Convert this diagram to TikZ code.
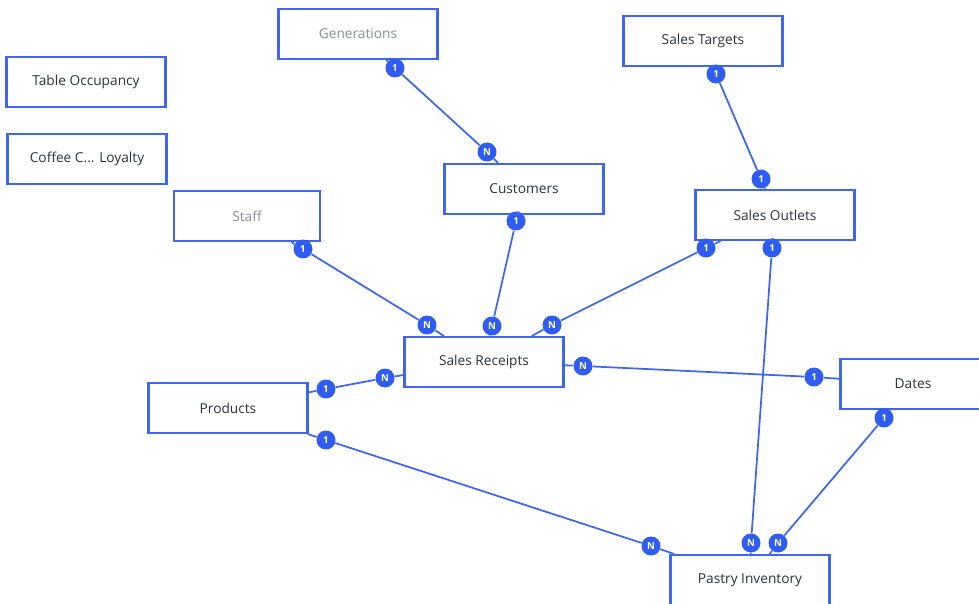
\documentclass[tikz,border=0pt]{standalone}
\usepackage{fontspec}
\setmainfont{Open Sans}
\definecolor{erblue}{HTML}{3D66F5}
\definecolor{badgeblue}{HTML}{2F5CF2}
\definecolor{txtgray}{HTML}{2E3338}
\definecolor{dimgray}{HTML}{8C9096}

\begin{document}
\begin{tikzpicture}[x=0.02cm, y=-0.02cm,
    table/.style={draw=erblue, line width=1.2pt, fill=white, minimum width=3.18cm,
      minimum height=1cm, text=txtgray, font=\fontsize{7.8}{9}\selectfont},
    faded/.style={table, text=dimgray},
    card/.style={circle, fill=badgeblue, text=white, inner sep=0pt, minimum size=0.38cm,
      font=\fontsize{5.5}{6}\selectfont\bfseries},
    rel/.style={erblue, line width=1pt}]
  \useasboundingbox (0,0) rectangle (979,604);
  % tables
  \node[table] (occ) at (86,82) {Table Occupancy};
  \node[table] (loy) at (87,159) {Coffee C... Loyalty};
  \node[faded] (gen) at (358,34) {Generations};
  \node[table] (tgt) at (703,41) {Sales Targets};
  \node[table] (cust) at (524,189) {Customers};
  \node[faded, minimum width=2.92cm] (staff) at (247,216) {Staff};
  \node[table] (outl) at (775,215) {Sales Outlets};
  \node[table] (rcpt) at (484,362) {Sales Receipts};
  \node[table] (prod) at (228,408) {Products};
  \node[table, minimum width=2.9cm] (dates) at (913,384) {Dates};
  \node[table] (pastry) at (750,580) {Pastry Inventory};
  % cardinality badges
  \node[card] (g1) at (395,68) {1};
  \node[card] (cN) at (487,152) {N};
  \node[card] (t1) at (716,74) {1};
  \node[card] (o1) at (761,179) {1};
  \node[card] (s1) at (303,249) {1};
  \node[card] (rN1) at (427,325) {N};
  \node[card] (c1) at (516,221) {1};
  \node[card] (rN2) at (492,326) {N};
  \node[card] (o2) at (706,248) {1};
  \node[card] (rN3) at (552,325) {N};
  \node[card] (o3) at (772,248) {1};
  \node[card] (pN1) at (751,543) {N};
  \node[card] (p1) at (326,389) {1};
  \node[card] (rN4) at (385,378) {N};
  \node[card] (rN5) at (583,366) {N};
  \node[card] (d1) at (814,377) {1};
  \node[card] (p2) at (326,440) {1};
  \node[card] (pN2) at (651,546) {N};
  \node[card] (d2) at (884,418) {1};
  \node[card] (pN3) at (778,543) {N};
  % relations
  \draw[rel] (gen) -- (g1) -- (cN) -- (cust);
  \draw[rel] (tgt) -- (t1) -- (o1) -- (outl);
  \draw[rel] (staff) -- (s1) -- (rN1) -- (rcpt);
  \draw[rel] (cust) -- (c1) -- (rN2) -- (rcpt);
  \draw[rel] (outl) -- (o2) -- (rN3) -- (rcpt);
  \draw[rel] (outl) -- (o3) -- (pN1) -- (pastry);
  \draw[rel] (prod) -- (p1) -- (rN4) -- (rcpt);
  \draw[rel] (rcpt) -- (rN5) -- (d1) -- (dates);
  \draw[rel] (prod) -- (p2) -- (pN2) -- (pastry);
  \draw[rel] (dates) -- (d2) -- (pN3) -- (pastry);
\end{tikzpicture}
\end{document}
